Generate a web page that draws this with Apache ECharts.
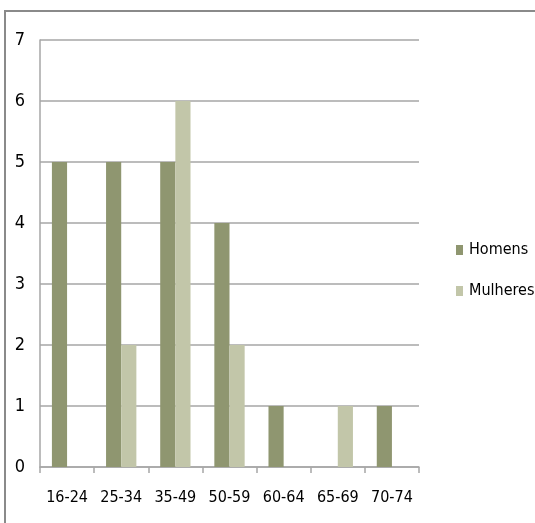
<!DOCTYPE html>
<html>
<head>
<meta charset="utf-8">
<script src="https://cdn.jsdelivr.net/npm/echarts@6/dist/echarts.min.js"></script>
<style>
  html, body { margin: 0; padding: 0; background: #fff; }
  #chart { width: 535px; height: 523px; }
</style>
</head>
<body>
<div id="chart"></div>
<script>
// Age groups and counts per sex
const ageGroups = ['16-24', '25-34', '35-49', '50-59', '60-64', '65-69', '70-74'];
const homens = [5, 5, 5, 4, 1, 0, 1];
const mulheres = [0, 2, 6, 2, 0, 1, 0];
const yTicks = [0, 1, 2, 3, 4, 5, 6, 7];

const chart = echarts.init(document.getElementById('chart'), null, { renderer: 'canvas' });
const labelFont = 'DejaVu Sans Condensed';

chart.setOption({
  animation: false,
  backgroundColor: '#ffffff',
  graphic: [{
    type: 'rect',
    shape: { x: 5, y: 11, width: 560, height: 540 },
    style: { fill: 'none', stroke: '#8a8a8a', lineWidth: 2 },
    silent: true
  }],
  grid: { left: 40, top: 40, right: 116, bottom: 56 },
  legend: {
    orient: 'vertical',
    left: 456,
    top: 242,
    padding: 0,
    itemWidth: 7,
    itemHeight: 10,
    itemGap: 25,
    icon: 'rect',
    textStyle: { fontFamily: labelFont, fontSize: 16, color: '#000', padding: [0, 0, 0, 1] },
    data: ['Homens', 'Mulheres']
  },
  xAxis: {
    type: 'category',
    data: ageGroups,
    axisLine: { lineStyle: { color: '#a6a6a6', width: 1.5 } },
    axisTick: { show: true, length: 6, lineStyle: { color: '#a6a6a6', width: 1.5 } },
    axisLabel: { interval: 0, fontFamily: labelFont, fontSize: 16, color: '#000', margin: 23 }
  },
  yAxis: {
    type: 'value',
    min: yTicks[0],
    max: yTicks[yTicks.length - 1],
    interval: 1,
    axisLine: { show: true, lineStyle: { color: '#a6a6a6', width: 1.5 } },
    axisTick: { show: false },
    axisLabel: { fontFamily: labelFont, fontSize: 18, color: '#000', margin: 15 },
    splitLine: { lineStyle: { color: '#a6a6a6', width: 1.5 } }
  },
  series: [
    {
      name: 'Homens',
      type: 'bar',
      data: homens,
      barGap: '0%',
      barCategoryGap: '44%',
      itemStyle: { color: '#8f9670' }
    },
    {
      name: 'Mulheres',
      type: 'bar',
      data: mulheres,
      barGap: '0%',
      barCategoryGap: '44%',
      itemStyle: { color: '#c2c6a9' }
    }
  ]
});
</script>
</body>
</html>
